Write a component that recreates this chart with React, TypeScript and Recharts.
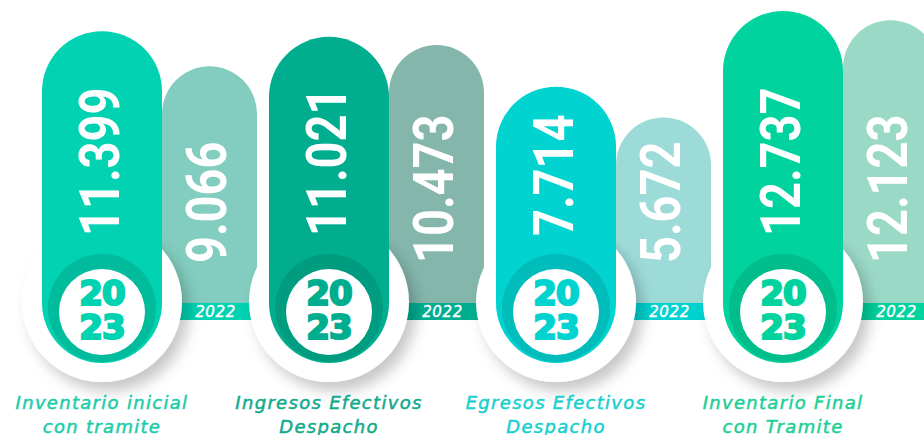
import { BarChart, Bar, XAxis, YAxis } from 'recharts'

const categoryLine1 = ['Inventario inicial', 'Ingresos Efectivos', 'Egresos Efectivos', 'Inventario Final']
const categoryLine2 = ['con tramite', 'Despacho', 'Despacho', 'con Tramite']
const values2023 = [11399, 11021, 7714, 12737]
const values2022 = [9066, 10473, 5672, 12123]
const yearLabels = ['2023', '2022']

const data = categoryLine1.map((c, i) => ({
  name: c + ' ' + categoryLine2[i],
  y2023: values2023[i],
  y2022: values2022[i],
  idx: i,
}))

const PALETTE = [
  { dark: '#00d2b2', ring: '#00bb9c', light: '#82cdbf', text: '#1ccca9' },
  { dark: '#00ae8f', ring: '#009c7f', light: '#84b6ac', text: '#11aa8b' },
  { dark: '#00d3d0', ring: '#00bdbb', light: '#9ddbd9', text: '#19cfd0' },
  { dark: '#00d39d', ring: '#00bd8c', light: '#9bd9c7', text: '#1dcf95' },
]

const W = 960
const H = 435
const MARGIN = { top: 7, right: 16, bottom: 232, left: 36 }
const DARK_BOTTOM = 363
const STRIP_TOP = 303
const STRIP_BOTTOM = 320

const fmt = (v: number) => `${Math.floor(v / 1000)}.${String(v % 1000).padStart(3, '0')}`

function ValueText({ cx, y0, value }: { cx: number; y0: number; value: number }) {
  return (
    <text
      transform={`translate(${cx + 20},${y0}) rotate(-90) scale(0.84,1)`}
      fontFamily="Roboto"
      fontWeight={700}
      fontSize={56}
      fill="#fff"
    >
      {fmt(value)}
    </text>
  )
}

function DarkBar(props: any) {
  const { x, y, width, payload } = props
  const i = payload.idx
  const c = PALETTE[i]
  const cx = x + width / 2
  const r = width / 2
  const d = `M${x},${y + r} A${r},${r} 0 0 1 ${x + width},${y + r} L${x + width},${DARK_BOTTOM - r} A${r},${r} 0 0 1 ${x},${DARK_BOTTOM - r} Z`
  const yr = yearLabels[0]
  const yearStyle = {
    textAnchor: 'middle' as const,
    fontFamily: "'DejaVu Sans', sans-serif",
    fontWeight: 700,
    fontSize: 34,
    fill: c.dark,
    stroke: c.dark,
    strokeWidth: 2.2,
    letterSpacing: -1,
  }
  const catStyle = {
    textAnchor: 'middle' as const,
    fontFamily: "'DejaVu Sans', sans-serif",
    fontStyle: 'italic',
    fontSize: 18,
    letterSpacing: 1.3,
    fill: c.text,
    stroke: c.text,
    strokeWidth: 0.5,
  }
  return (
    <g>
      <circle cx={cx} cy={302} r={80} fill="#fff" filter="url(#soft)" />
      <path d={d} fill={c.dark} />
      <circle cx={cx} cy={308} r={54} fill={c.ring} />
      <circle cx={cx} cy={312} r={43} fill="#fff" />
      <text x={cx} y={305} {...yearStyle}>{yr.slice(0, 2)}</text>
      <text x={cx} y={339} {...yearStyle}>{yr.slice(2)}</text>
      <ValueText cx={cx - 3} y0={236} value={payload.y2023} />
      <text x={cx} y={409} {...catStyle}>{categoryLine1[i]}</text>
      <text x={cx} y={433} {...catStyle}>{categoryLine2[i]}</text>
    </g>
  )
}

function LightBar(props: any) {
  const { x, y, width, payload } = props
  const c = PALETTE[payload.idx]
  const r = width / 2
  const d = `M${x},${STRIP_BOTTOM} L${x},${y + r} A${r},${r} 0 0 1 ${x + width},${y + r} L${x + width},${STRIP_BOTTOM} Z`
  return (
    <g>
      <path d={d} fill={c.light} />
      <rect x={x} y={STRIP_TOP} width={width} height={STRIP_BOTTOM - STRIP_TOP} fill={c.dark} />
      <text
        x={x + width / 2 + 6}
        y={317}
        textAnchor="middle"
        fontFamily="'DejaVu Sans', sans-serif"
        fontStyle="italic"
        fontSize={15}
        letterSpacing={0.6}
        fill="#fff"
        stroke="#fff"
        strokeWidth={0.4}
      >
        {yearLabels[1]}
      </text>
      <ValueText cx={x + width / 2 - 4} y0={263} value={payload.y2022} />
    </g>
  )
}

const Empty = () => <g />

function Layer({ top }: { top: boolean }) {
  return (
    <BarChart width={W} height={H} data={data} margin={MARGIN} barGap={0}>
      <defs>
        <filter id={top ? 'soft' : 'soft0'} x="-50%" y="-50%" width="200%" height="200%">
          <feDropShadow dx="7" dy="9" stdDeviation="7" floodColor="#000" floodOpacity="0.22" />
        </filter>
      </defs>
      <XAxis dataKey="name" hide />
      <YAxis hide domain={[0, 13000]} />
      <Bar dataKey="y2023" barSize={120} isAnimationActive={false} shape={top ? <DarkBar /> : <Empty />} />
      <Bar dataKey="y2022" barSize={95} isAnimationActive={false} shape={top ? <Empty /> : <LightBar />} />
    </BarChart>
  )
}

export default function App() {
  return (
    <div style={{ position: 'absolute', left: 0, top: 0, width: 924, height: 435, overflow: 'hidden', background: '#fff' }}>
      <div style={{ position: 'absolute', left: 0, top: 0 }}>
        <Layer top={false} />
      </div>
      <div style={{ position: 'absolute', left: 0, top: 0 }}>
        <Layer top={true} />
      </div>
    </div>
  )
}
